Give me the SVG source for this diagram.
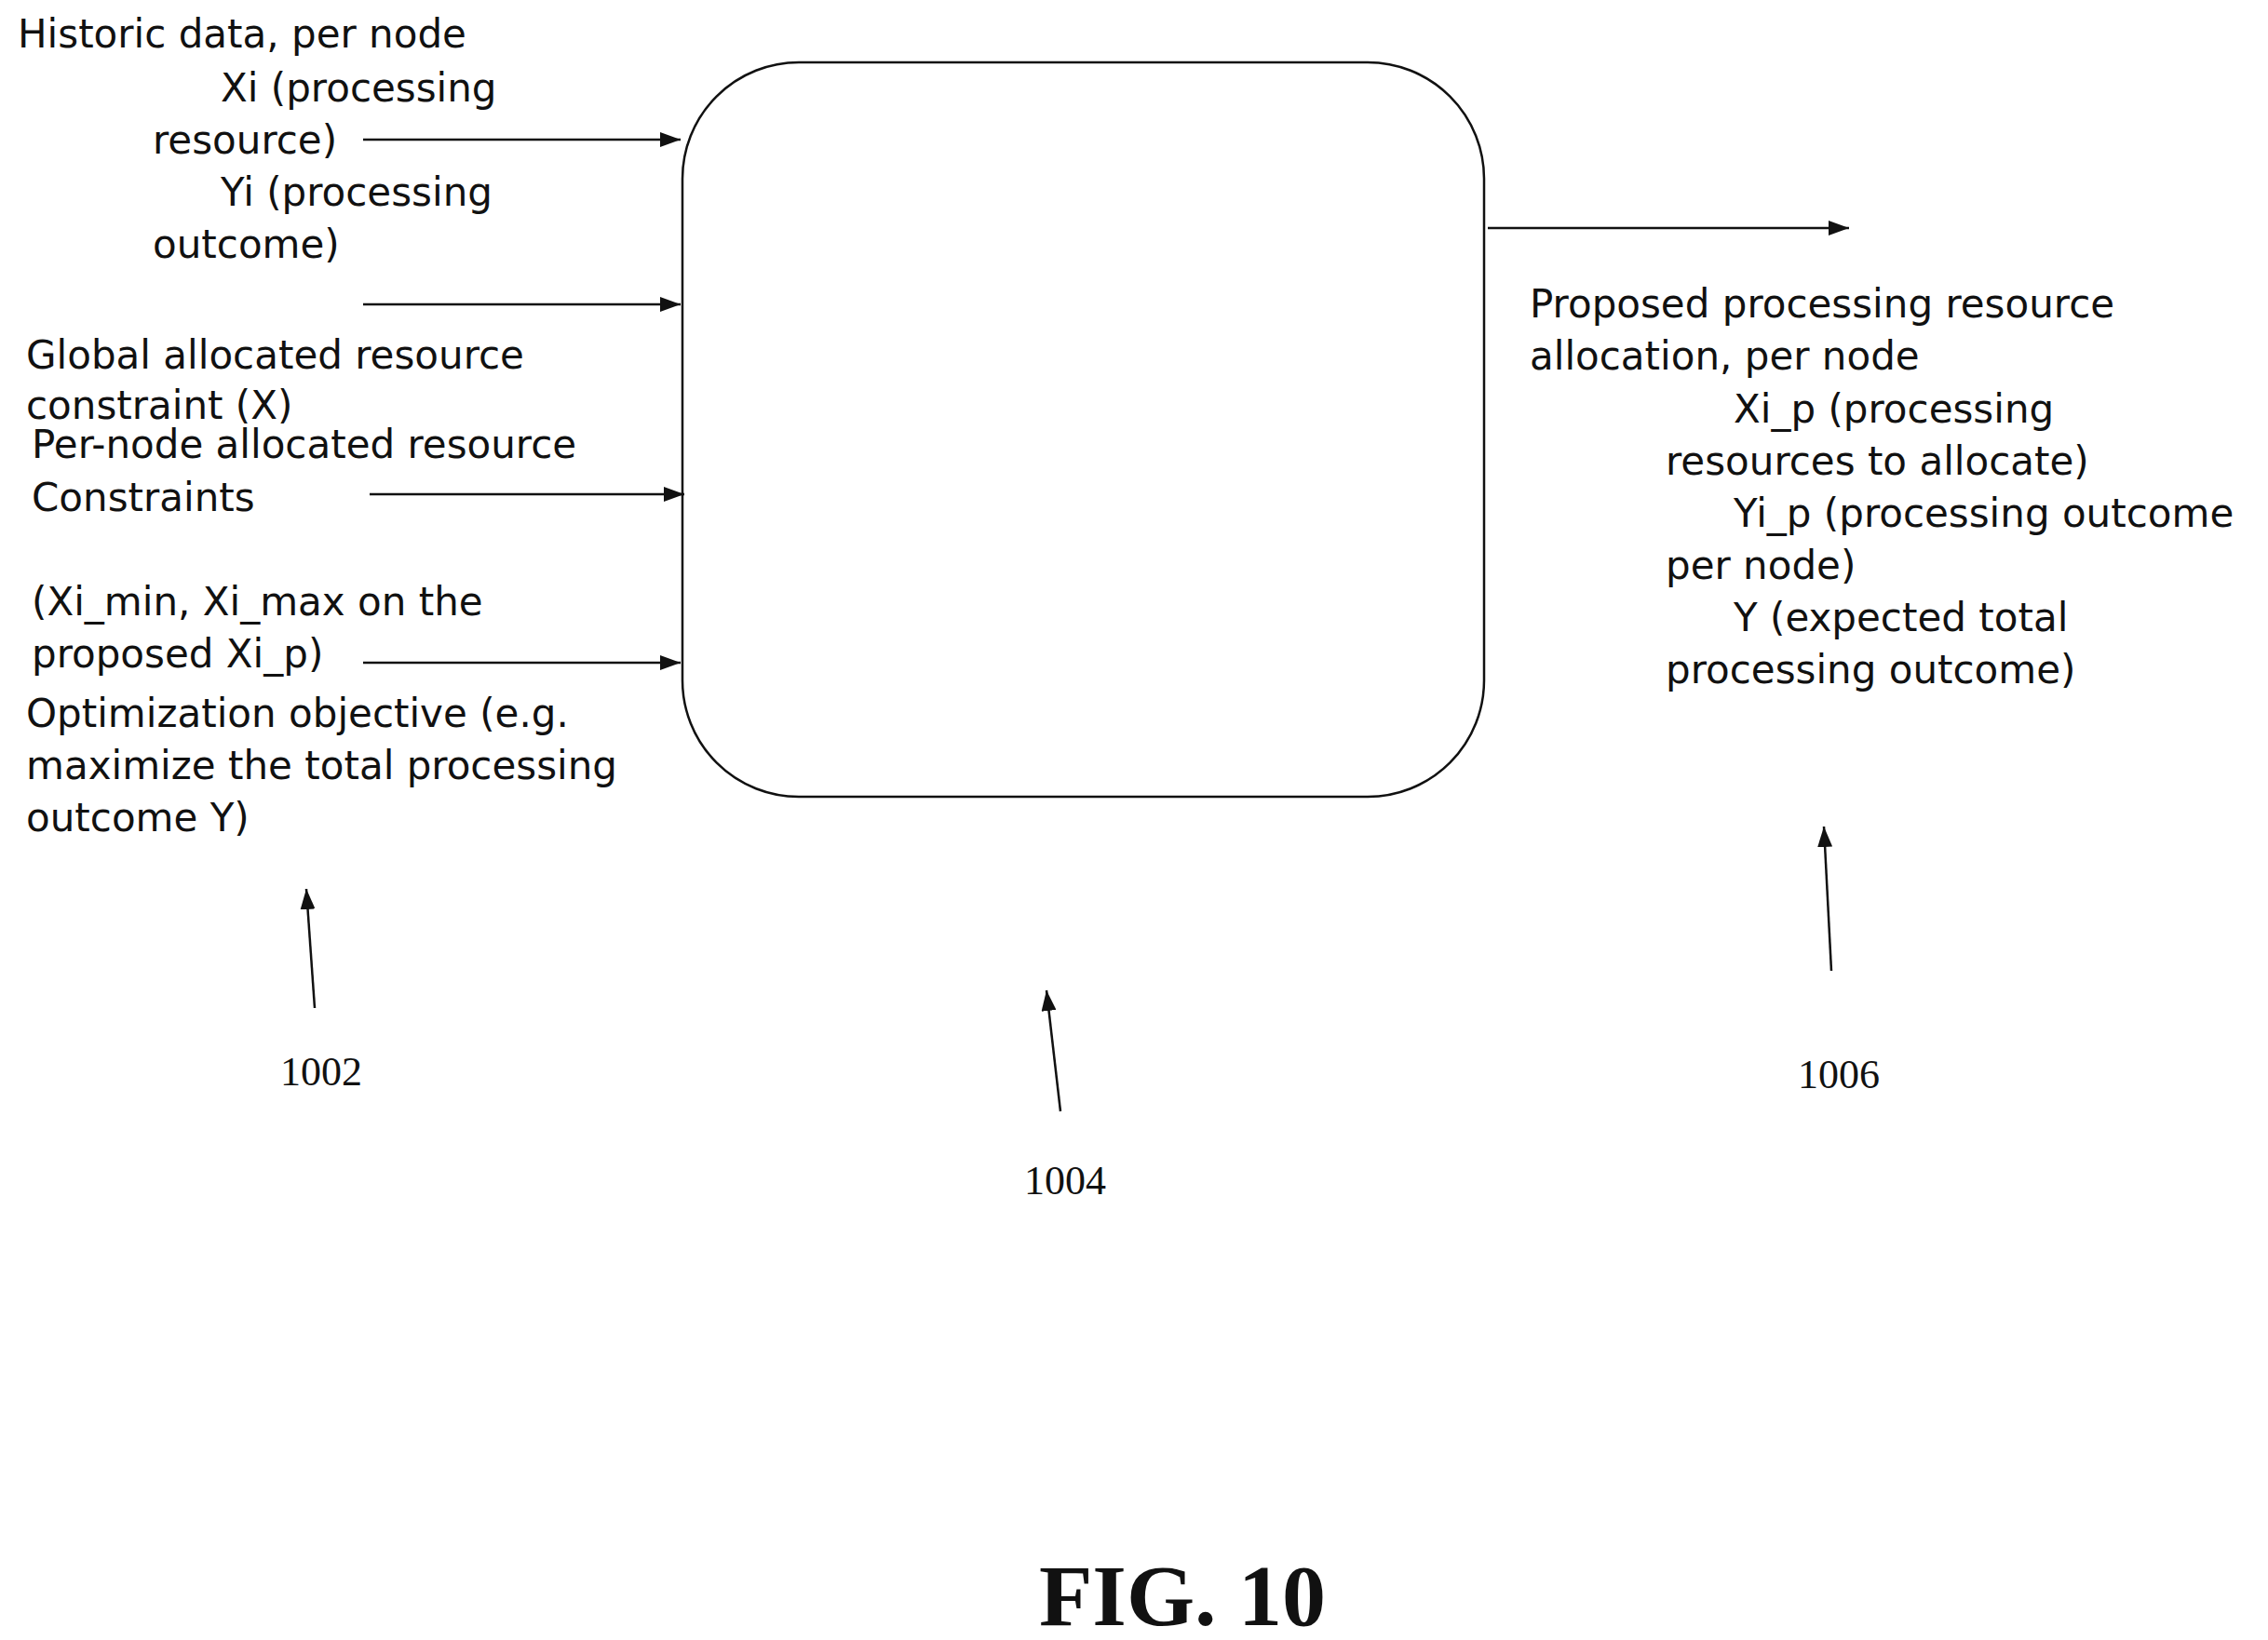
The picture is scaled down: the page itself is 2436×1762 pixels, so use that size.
<svg xmlns="http://www.w3.org/2000/svg" width="2436" height="1762" viewBox="0 0 2436 1762">
<style>
.t{font-family:"DejaVu Sans","Liberation Sans",Arial,sans-serif;font-size:42px;fill:#111}
.n{font-family:"Liberation Serif","Times New Roman",serif;font-size:44px;fill:#111}
.l{stroke:#111;stroke-width:2.5;fill:none}
</style>
<defs><marker id="b" markerWidth="22" markerHeight="16" refX="22" refY="8" orient="auto" markerUnits="userSpaceOnUse"><path d="M0,0L22,8L0,16z" fill="#111"/></marker></defs>
<rect width="2436" height="1762" fill="#fff"/>
<g id="box"><rect x="733" y="67" width="861" height="789" rx="125" ry="125" class="l" stroke-width="3"/></g>
<g id="inputs" class="t">
<text x="19" y="51">Historic data, per node</text>
<text x="237" y="109">Xi (processing</text>
<text x="164" y="165">resource)</text>
<text x="237" y="221">Yi (processing</text>
<text x="164" y="277">outcome)</text>
<text x="28" y="396">Global allocated resource</text>
<text x="28" y="450">constraint (X)</text>
<text x="34" y="492">Per-node allocated resource</text>
<text x="34" y="549">Constraints</text>
<text x="34" y="661">(Xi_min, Xi_max on the</text>
<text x="34" y="717">proposed Xi_p)</text>
<text x="28" y="781">Optimization objective (e.g.</text>
<text x="28" y="837">maximize the total processing</text>
<text x="28" y="893">outcome Y)</text>
</g>
<g id="outputs" class="t">
<text x="1643" y="341">Proposed processing resource</text>
<text x="1643" y="397">allocation, per node</text>
<text x="1862" y="454">Xi_p (processing</text>
<text x="1789" y="510">resources to allocate)</text>
<text x="1862" y="566">Yi_p (processing outcome</text>
<text x="1789" y="622">per node)</text>
<text x="1862" y="678">Y (expected total</text>
<text x="1789" y="734">processing outcome)</text>
</g>
<g id="connectors" class="l">
<line x1="390" y1="150" x2="731" y2="150" marker-end="url(#b)"/>
<line x1="390" y1="327" x2="731" y2="327" marker-end="url(#b)"/>
<line x1="397" y1="531" x2="735" y2="531" marker-end="url(#b)"/>
<line x1="390" y1="712" x2="731" y2="712" marker-end="url(#b)"/>
<line x1="1598" y1="245" x2="1986" y2="245" marker-end="url(#b)"/>
<line x1="338" y1="1083" x2="329" y2="955" marker-end="url(#b)"/>
<line x1="1139" y1="1194" x2="1124" y2="1064" marker-end="url(#b)"/>
<line x1="1967" y1="1043" x2="1959" y2="888" marker-end="url(#b)"/>
</g>
<g id="labels" class="n">
<text x="301" y="1166">1002</text>
<text x="1100" y="1283">1004</text>
<text x="1931" y="1169">1006</text>
<text x="1270" y="1746" text-anchor="middle" font-weight="bold" font-size="94">FIG. 10</text>
</g>
</svg>
